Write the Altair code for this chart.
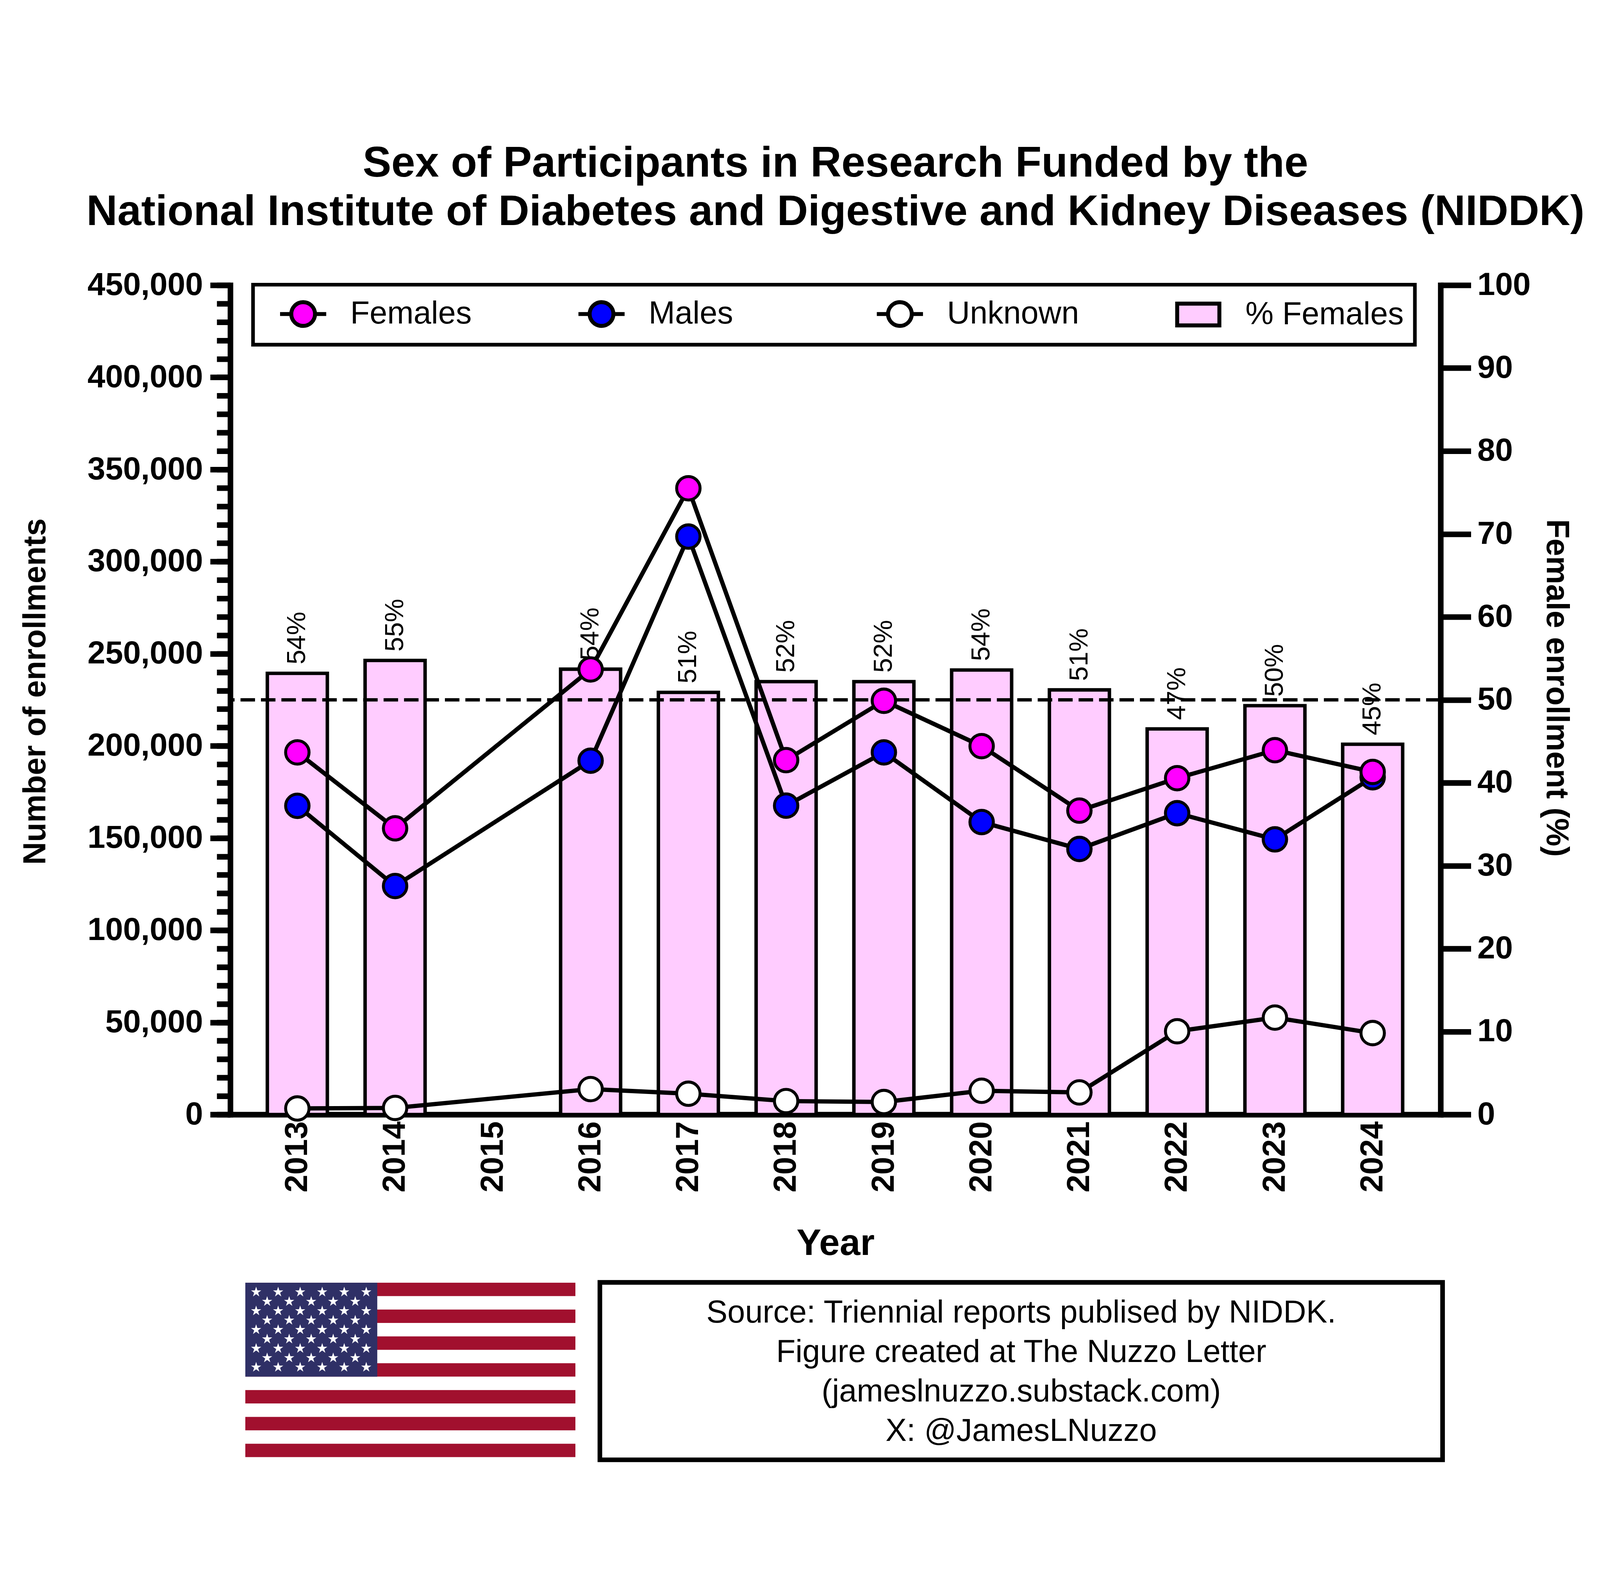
import base64
import math
import altair as alt
import pandas as pd

# ---------------- data ----------------
years = [2013, 2014, 2016, 2017, 2018, 2019, 2020, 2021, 2022, 2023, 2024]
axis_years = [2013, 2014, 2015, 2016, 2017, 2018, 2019, 2020, 2021, 2022, 2023, 2024]
females = [196500, 155300, 241500, 339800, 192300, 224500, 199900, 164900, 182500, 197700, 185900]
males = [167500, 124000, 192000, 313600, 167600, 196500, 158700, 144100, 163500, 149300, 183000]
unknown = [3300, 3600, 13800, 11300, 7300, 6800, 12900, 12000, 45200, 52600, 44200]
pct_females = [53.2, 54.75, 53.7, 50.9, 52.2, 52.2, 53.6, 51.2, 46.5, 49.3, 44.65]
pct_labels = ["54%", "55%", "54%", "51%", "52%", "52%", "54%", "51%", "47%", "50%", "45%"]
reference_pct = [50]

series_names = ["Females", "Males", "Unknown", "% Females"]
series_colors = ["#FF00FF", "#0000FF", "#FFFFFF", "#FFCCFF"]

count_ticks = list(range(0, 450001, 50000))
count_minor_ticks = list(range(0, 450001, 10000))
pct_ticks = list(range(0, 101, 10))

title_lines = [
    "Sex of Participants in Research Funded by the",
    "National Institute of Diabetes and Digestive and Kidney Diseases (NIDDK)",
]
source_lines = [
    "Source: Triennial reports publised by NIDDK.",
    "Figure created at The Nuzzo Letter",
    "(jameslnuzzo.substack.com)",
    "X: @JamesLNuzzo",
]

FONT = "Liberation Sans"
W, H = 3671, 2515

# ---------------- tables ----------------
rows = []
for name, vals in [("Unknown", unknown), ("Males", males), ("Females", females)]:
    for y, v in zip(years, vals):
        rows.append({"year": y, "series": name, "count": v})
counts_df = pd.DataFrame(rows)
pct_df = pd.DataFrame({"year": years, "pct": pct_females, "label": pct_labels})
ref_df = pd.DataFrame({"pct": reference_pct})
one_df = pd.DataFrame({"k": [0]})

# ---------------- legend symbols (unit = 50 px, drawn shifted right) ----------------
line_circle = ("M-0.14,0L0.54,0M1.98,0L2.66,0"
               "M1.98,0A0.72,0.72,0,1,1,0.54,0A0.72,0.72,0,1,1,1.98,0Z")
rect_sym = "M-0.02,-0.66L2.54,-0.66L2.54,0.66L-0.02,0.66Z"
shape_paths = [line_circle, line_circle, line_circle, rect_sym]

# ---------------- flag image ----------------
FW, FH = 1002, 529
stripe_h = FH / 13
cw, ch = FW * 0.4, stripe_h * 7
parts = [f'<svg xmlns="http://www.w3.org/2000/svg" width="{FW}" height="{FH}" viewBox="0 0 {FW} {FH}" preserveAspectRatio="none">']
for i in range(13):
    col = "#A1102E" if i % 2 == 0 else "#FFFFFF"
    parts.append(f'<rect x="0" y="{i*stripe_h:.2f}" width="{FW}" height="{stripe_h+0.3:.2f}" fill="{col}"/>')
parts.append(f'<rect x="0" y="0" width="{cw:.2f}" height="{ch:.2f}" fill="#2F3066"/>')
R = FH * 0.0616 / 2
for j in range(1, 10):
    ks = [1, 3, 5, 7, 9, 11] if j % 2 == 1 else [2, 4, 6, 8, 10]
    for k in ks:
        cx, cy = k * cw / 12, j * ch / 10
        pts = []
        for m in range(10):
            ang = math.radians(-90 + m * 36)
            rr = R if m % 2 == 0 else R * 0.382
            pts.append(f"{cx + rr*math.cos(ang):.2f},{cy + rr*math.sin(ang):.2f}")
        parts.append(f'<polygon points="{" ".join(pts)}" fill="#FFFFFF"/>')
parts.append("</svg>")
flag_uri = "data:image/svg+xml;base64," + base64.b64encode("".join(parts).encode()).decode()

# ---------------- shared encodings ----------------
x_enc = alt.X(
    "year:Q",
    scale=alt.Scale(domain=[2012.331, 2024.678], nice=False, zero=False),
    axis=alt.Axis(
        values=axis_years, format="d", labelAngle=270, ticks=False, tickSize=0,
        labelPadding=20, labelFlush=False, labelOverlap=False, grid=False,
        title="Year", titleFontSize=112, titlePadding=137,
    ),
)
pct_scale = alt.Scale(domain=[0, 100], nice=False, zero=True)
count_scale = alt.Scale(domain=[0, 450000], nice=False, zero=True)

bars = alt.Chart(pct_df).mark_bar(
    size=182, fill="#FFCCFF", stroke="black", strokeWidth=10.5
).encode(
    x=x_enc,
    y=alt.Y("pct:Q", scale=pct_scale, axis=alt.Axis(
        orient="right", values=pct_ticks, tickSize=92, labelPadding=19,
        labelFlush=False, labelOverlap=False, grid=False,
        title="Female enrollment (%)", titleX=302, titleY=1221)),
)

labels = alt.Chart(pct_df).mark_text(
    angle=270, align="left", baseline="middle", dx=27, fontSize=80, font=FONT,
    color="black",
).encode(
    x=x_enc,
    y=alt.Y("pct:Q", scale=pct_scale, axis=None),
    text="label:N",
)

ref_rule = alt.Chart(ref_df).mark_rule(
    color="black", strokeWidth=10, strokeDash=[44, 18]
).encode(y=alt.Y("pct:Q", scale=pct_scale, axis=None))

lines = alt.Chart(counts_df).mark_line(color="black", strokeWidth=13).encode(
    x=x_enc,
    y=alt.Y("count:Q", scale=count_scale, axis=alt.Axis(
        orient="left", values=count_ticks, format=",d", tickSize=61,
        labelPadding=22, labelFlush=False, labelOverlap=False, grid=False,
        title="Number of enrollments", titleX=-542, titleY=1232)),
    detail="series:N",
)

legend_spec = alt.Legend(
    orient="none", legendX=69, legendY=-1.5, direction="horizontal", columns=4,
    gridAlign="all", columnPadding=162, labelOffset=150, symbolSize=10000,
    symbolStrokeWidth=12, symbolStrokeColor="black", labelFontSize=96,
    labelFont=FONT, labelColor="black", labelLimit=3000, padding=33,
    strokeColor="black", fillColor="white", title=None,
)

legend_layer = alt.Chart(counts_df).mark_point(filled=True, opacity=1).encode(
    color=alt.Color("series:N", scale=alt.Scale(domain=series_names, range=series_colors),
                    legend=legend_spec),
    shape=alt.Shape("series:N", scale=alt.Scale(domain=series_names, range=shape_paths),
                    legend=legend_spec),
).transform_filter("false")

points = alt.Chart(counts_df).mark_point(
    filled=True, shape="circle", size=5041, stroke="black", strokeWidth=9, opacity=1
).encode(
    x=x_enc,
    y=alt.Y("count:Q", scale=count_scale, axis=alt.Axis(
        orient="left", values=count_minor_ticks, tickSize=41, labels=False,
        domain=False, grid=False, title=None)),
    color=alt.Color("series:N", scale=alt.Scale(domain=series_names, range=series_colors),
                    legend=None),
)

title_text = alt.Chart(one_df).mark_text(
    align="center", baseline="alphabetic", fontSize=130, font=FONT,
    fontWeight="bold", lineHeight=147, color="black",
).encode(x=alt.value(W / 2), y=alt.value(-329), text=alt.value(title_lines))

source_box = alt.Chart(one_df).mark_rect(
    fill="white", stroke="black", strokeWidth=14
).encode(
    x=alt.value(1121), x2=alt.value(3677), y=alt.value(3024), y2=alt.value(3562)
)

source_text = alt.Chart(one_df).mark_text(
    align="center", baseline="alphabetic", fontSize=96, font=FONT,
    lineHeight=119.5, color="black",
).encode(x=alt.value(2399), y=alt.value(3146), text=alt.value(source_lines))

flag = alt.Chart(one_df).mark_image(
    url=flag_uri, width=FW, height=FH, aspect=False, align="left", baseline="top"
).encode(x=alt.value(45), y=alt.value(3025))

chart = alt.layer(
    bars, labels, ref_rule, lines, legend_layer, points,
    title_text, source_box, source_text, flag
).resolve_scale(y="independent").properties(
    width=W, height=H,
    autosize=alt.AutoSizeParams(type="none"),
    padding={"left": 689, "top": 481, "right": 474, "bottom": 1055},
    background="white",
).configure_view(stroke=None).configure_axis(
    domainColor="black", domainWidth=17, domainCap="square", tickColor="black",
    tickWidth=17, labelFont=FONT, labelFontSize=97, labelFontWeight="bold",
    labelColor="black", labelLimit=3000, titleFont=FONT, titleFontSize=96,
    titleFontWeight="bold", titleColor="black", titleLimit=5000,
).configure_legend(strokeWidth=11)

chart.save("out.html", embed_options={"renderer": "svg", "actions": False})
